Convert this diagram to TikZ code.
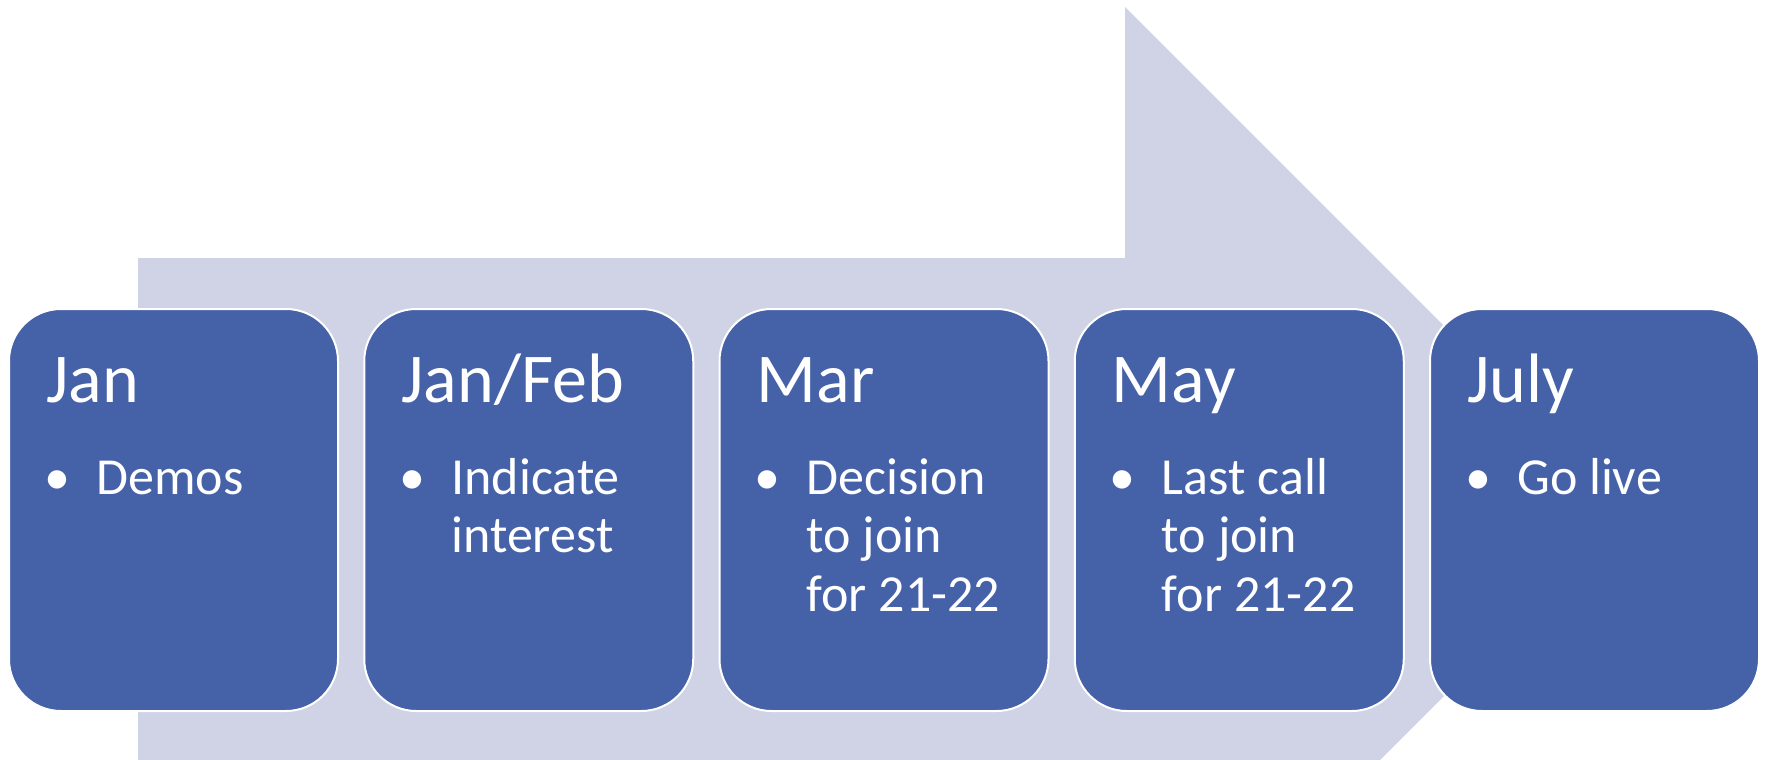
\documentclass[tikz,border=0pt]{standalone}
\usepackage{fontspec}
\setmainfont{Carlito}
\usetikzlibrary{calc}
\definecolor{boxblue}{HTML}{4561A8}
\definecolor{lav}{HTML}{CFD3E5}
\begin{document}
\begin{tikzpicture}[x=1pt,y=-1pt,
  stepbox/.style={draw=white, line width=2pt, fill=boxblue, rounded corners=52pt,
    minimum width=329pt, minimum height=402pt, inner sep=0pt},
  titletext/.style={anchor=base west, inner sep=0pt, text=white,
    font=\fontsize{70}{84}\selectfont},
  bul/.style={anchor=base, inner sep=0pt, text=white,
    font=\fontsize{52}{58.5}\selectfont},
  itemtext/.style={anchor=base west, inner sep=0pt, text=white,
    font=\fontsize{52}{58.5}\selectfont}]
\useasboundingbox (0,0) rectangle (1765,760);
\clip (0,0) rectangle (1765,760);
% background arrow
\fill[lav] (138,258) -- (1125,258) -- (1125,7) -- (1629,511) -- (1125,1015)
  -- (1125,764) -- (138,764) -- cycle;
% boxes
\node[stepbox] (b1) at (173.5,510) {};
\node[stepbox] (b2) at (528.75,510) {};
\node[stepbox] (b3) at (884,510) {};
\node[stepbox] (b4) at (1239.25,510) {};
\node[stepbox] (b5) at (1594.5,510) {};
% titles
\node[titletext] (t1) at ($(b1.north west)+(38,94)$) {Jan};
\node[titletext] (t2) at ($(b2.north west)+(38,94)$) {Jan/Feb};
\node[titletext] (t3) at ($(b3.north west)+(38,94)$) {Mar};
\node[titletext] (t4) at ($(b4.north west)+(38,94)$) {May};
\node[titletext] (t5) at ($(b5.north west)+(38,94)$) {July};
% bullets
\node[bul] (d1) at ($(b1.north west)+(49,186)$) {•};
\node[bul] (d2) at ($(b2.north west)+(49,186)$) {•};
\node[bul] (d3) at ($(b3.north west)+(49,186)$) {•};
\node[bul] (d4) at ($(b4.north west)+(49,186)$) {•};
\node[bul] (d5) at ($(b5.north west)+(49,186)$) {•};
% items
\node[itemtext] (i1) at ($(b1.north west)+(88,186)$) {\parbox[t]{235pt}{\raggedright Demos}};
\node[itemtext] (i2) at ($(b2.north west)+(88,186)$) {\parbox[t]{235pt}{\raggedright Indicate\\interest}};
\node[itemtext] (i3) at ($(b3.north west)+(88,186)$) {\parbox[t]{235pt}{\raggedright Decision\\to join\\for 21-22}};
\node[itemtext] (i4) at ($(b4.north west)+(88,186)$) {\parbox[t]{235pt}{\raggedright Last call\\to join\\for 21-22}};
\node[itemtext] (i5) at ($(b5.north west)+(88,186)$) {\parbox[t]{235pt}{\raggedright Go live}};
\end{tikzpicture}
\end{document}
